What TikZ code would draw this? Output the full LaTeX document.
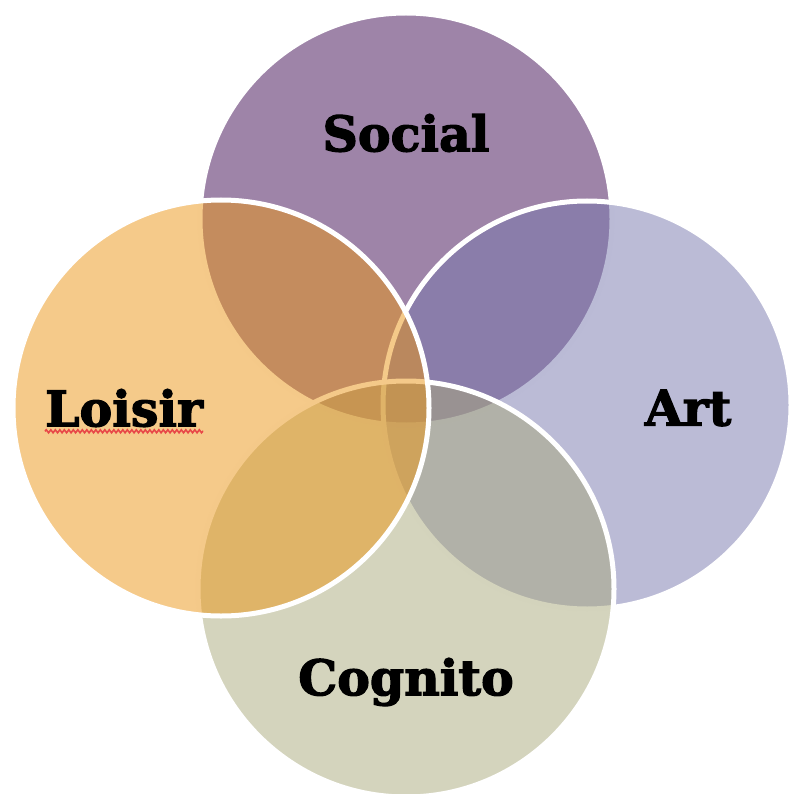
\documentclass[tikz,border=0pt]{standalone}
\usepackage{fontspec}
\setmainfont{DejaVu Serif}
\newfontfamily\heavyfont{DejaVu Serif Bold}[FakeBold=2.5]
\usetikzlibrary{decorations.pathmorphing}
\definecolor{socialc}{RGB}{61,9,81}
\definecolor{artc}{RGB}{119,119,173}
\definecolor{cognitoc}{RGB}{169,169,123}
\definecolor{loisirc}{RGB}{235,149,21}
\definecolor{spellred}{RGB}{232,72,72}
\begin{document}
\begin{tikzpicture}[x=1pt,y=-1pt,
  venn/.style={circle, draw=white, line width=5pt, fill opacity=0.5, draw opacity=1, inner sep=0pt},
  lbl/.style={font=\heavyfont\fontsize{49}{49}\selectfont, text=black, inner sep=0pt}]
\useasboundingbox (0,0) rectangle (790,794);
\node[venn, fill=socialc, minimum size=412pt] (social) at (406,219) {};
\node[venn, fill=artc, minimum size=408pt] (art) at (587,405) {};
\node[venn, fill=cognitoc, minimum size=416pt] (cognito) at (406,589) {};
\node[venn, fill=loisirc, minimum size=416pt] (loisir) at (221,408) {};
\node[lbl] (tsocial) at (406,133) {Social};
\node[lbl] (tart) at (688,408) {Art};
\node[lbl] (tloisir) at (124,408) {Loisir};
\node[lbl] (tcognito) at (406,682) {Cognito};
\draw[spellred, line width=1.6pt, decorate, decoration={snake, amplitude=1.5pt, segment length=4.5pt}]
  ([yshift=-5pt]tloisir.base west) -- ([yshift=-5pt]tloisir.base east);
\end{tikzpicture}
\end{document}
